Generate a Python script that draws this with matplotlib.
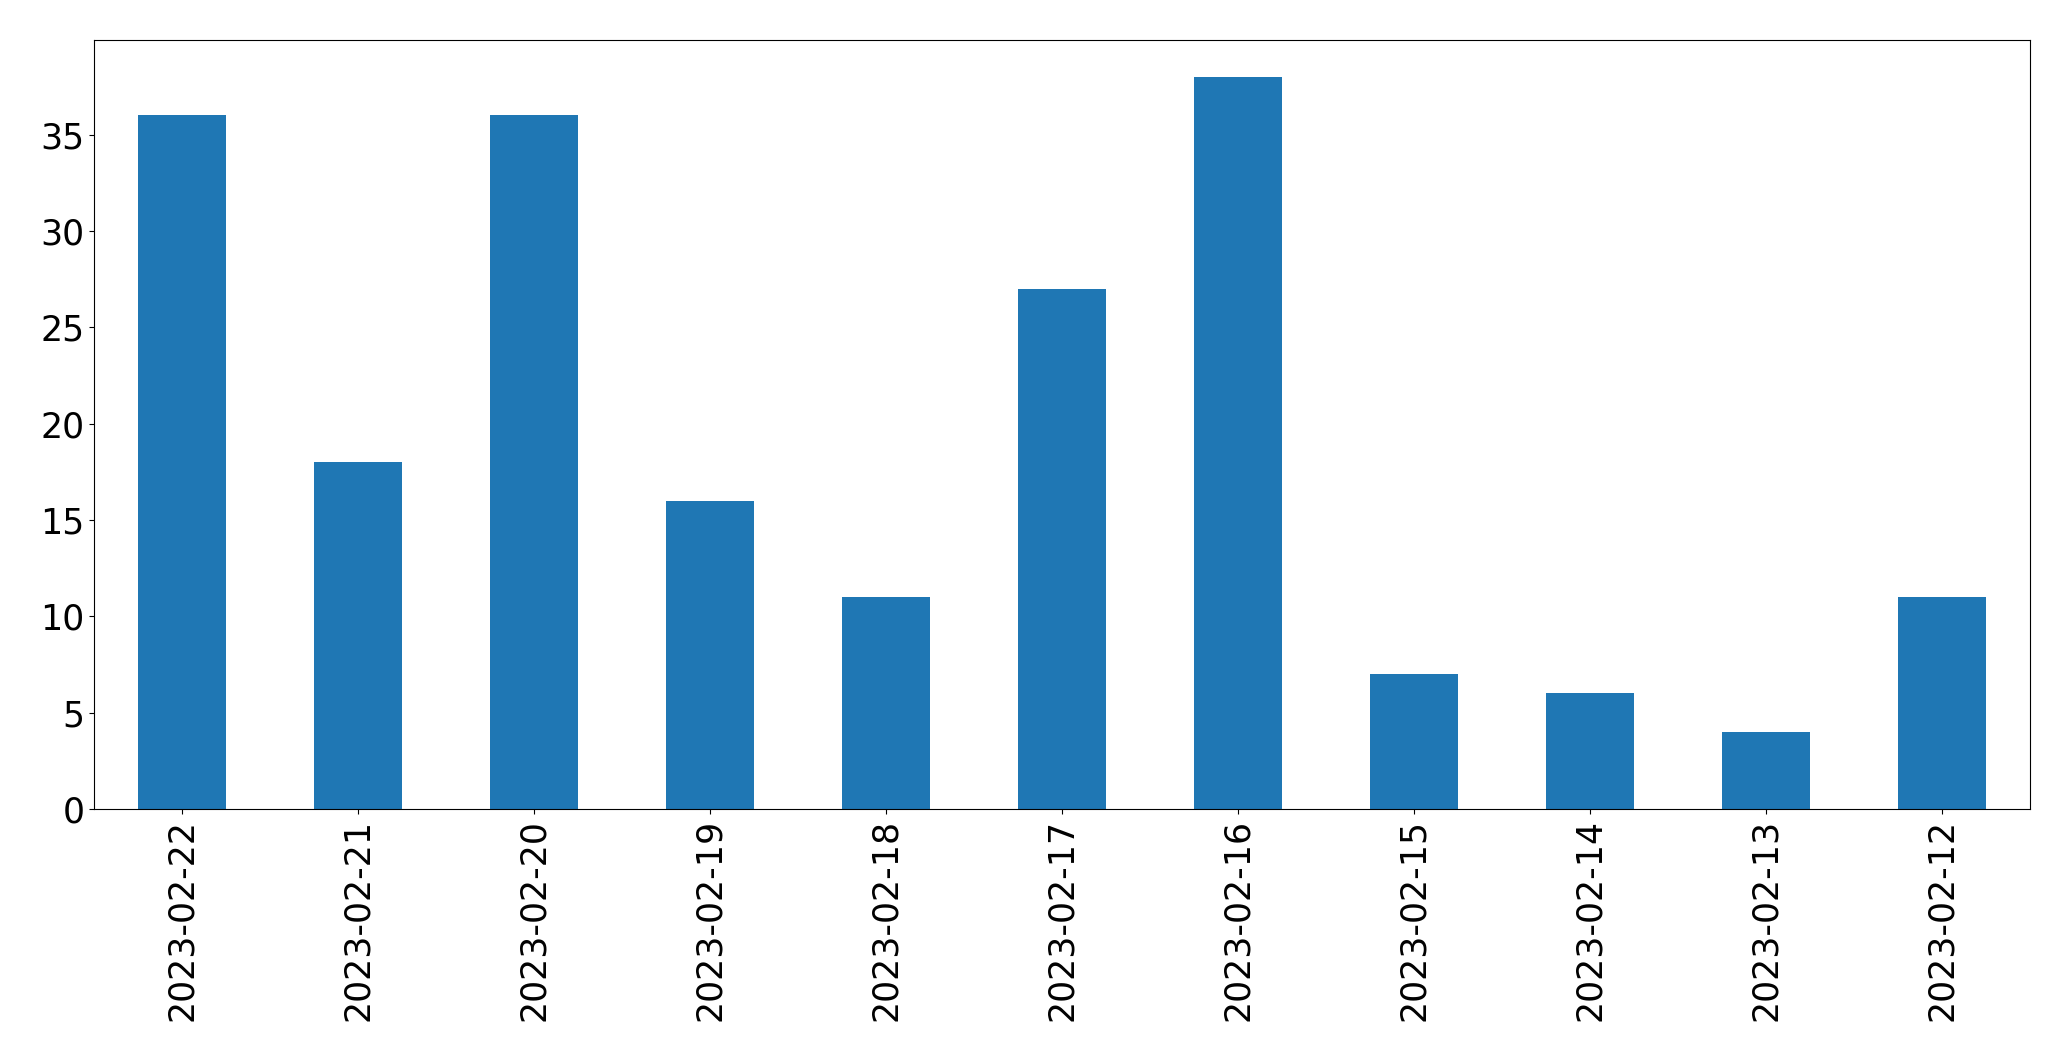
import pandas as pd
import matplotlib
matplotlib.use("Agg")
import matplotlib.pyplot as plt

dates = ["2023-02-22", "2023-02-21", "2023-02-20", "2023-02-19", "2023-02-18",
         "2023-02-17", "2023-02-16", "2023-02-15", "2023-02-14", "2023-02-13",
         "2023-02-12"]
counts = [36, 18, 36, 16, 11, 27, 38, 7, 6, 4, 11]

series = pd.Series(counts, index=dates)

fig, ax = plt.subplots(figsize=(20.71, 10.61), dpi=100)
series.plot(kind="bar", ax=ax, color="#1f77b4")
ax.tick_params(axis="both", labelsize=25)
plt.subplots_adjust(left=0.0454, right=0.980, top=0.962, bottom=0.2375)
fig.savefig("out.png", dpi=100)
